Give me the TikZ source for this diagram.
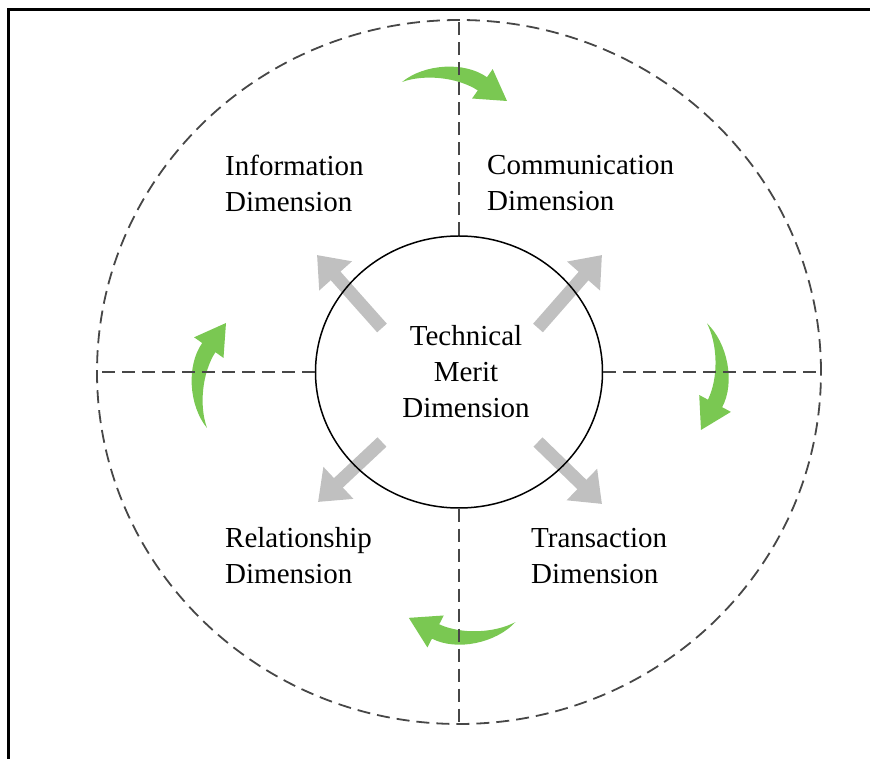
\documentclass[tikz,border=0pt]{standalone}
\usepackage{fontspec}
\setmainfont{Liberation Serif}
\usetikzlibrary{arrows.meta}
\usetikzlibrary{shapes.geometric}
\definecolor{leafgreen}{RGB}{122,200,82}
\definecolor{arrowgray}{RGB}{192,192,192}
\tikzset{
    turnarrow/.pic={
    \fill[leafgreen] (-57,0) .. controls (-35,18) and (5,21) .. (28,4.8) -- (33.7,12.9) -- (48,-19) -- (13.1,-16.5) -- (18.8,-8.4) .. controls (-2,5) and (-35,8) .. cycle;
    }
}

\begin{document}
\begin{tikzpicture}[x=1pt,y=1pt,
    quarter/.style={dash pattern=on 13pt off 7pt, line width=1.8pt, black!72},
    spoke/.style={arrowgray, line width=13pt, -{Triangle[length=28pt,width=42pt]}},
    dimtext/.style={align=left, anchor=west, inner sep=0pt, font=\fontsize{29}{36}\selectfont}]
    \useasboundingbox (-459,-387) rectangle (411,372);
    \draw[line width=3pt] (411,362) -- (-450,362) -- (-450,-387);
    % green arrows
    \pic at (0,290) {turnarrow};
    \pic[rotate=-83] at (255,-8) {turnarrow};
    \pic[rotate=-172] at (0,-258) {turnarrow};
    \pic[rotate=90] at (-252,1) {turnarrow};
    % gray spokes
    \coordinate (ulA) at (-77,44);
    \coordinate (ulB) at (-142,117);
    \coordinate (urA) at (79,44);
    \coordinate (urB) at (143,117);
    \coordinate (llA) at (-77,-70);
    \coordinate (llB) at (-141,-130);
    \coordinate (lrA) at (79,-70);
    \coordinate (lrB) at (143,-132);
    \draw[spoke] (ulA) -- (ulB);
    \draw[spoke] (urA) -- (urB);
    \draw[spoke] (llA) -- (llB);
    \draw[spoke] (lrA) -- (lrB);
    % rings
    \coordinate (O) at (0,0);
    \node[ellipse, draw, line width=1.5pt, minimum width=287pt, minimum height=272pt, inner sep=0pt] (core) at (O) {};
    \draw[quarter] (O) ellipse [x radius=362pt, y radius=352pt];
    \coordinate (top) at (0,352);
    \coordinate (bot) at (0,-352);
    \coordinate (lft) at (-362,0);
    \coordinate (rgt) at (362,0);
    \draw[quarter] (core.north) -- (top);
    \draw[quarter] (core.south) -- (bot);
    \draw[quarter] (core.west) -- (lft);
    \draw[quarter] (core.east) -- (rgt);
    % texts
    \node[dimtext] (info) at (-234,189) {Information\\Dimension};
    \node[dimtext] (comm) at (28,189) {Communication\\Dimension};
    \node[dimtext] (rel) at (-234,-184) {Relationship\\Dimension};
    \node[dimtext] (trans) at (72,-184) {Transaction\\Dimension};
    \node[dimtext, align=center, anchor=center] (merit) at (7,0) {Technical\\Merit\\Dimension};
\end{tikzpicture}
\end{document}
